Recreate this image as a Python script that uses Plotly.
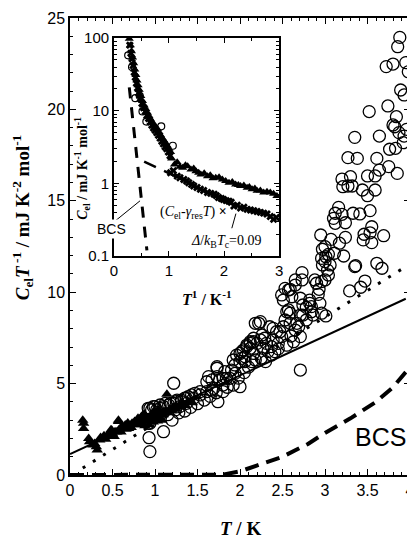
import plotly.graph_objects as go

# ---------------- main panel data ----------------
circ_T = [3.88,3.855,3.72,3.80,3.95,3.98,3.89,3.93,3.52,3.74,3.84,3.80,3.82,3.87,3.96,3.93,3.92,3.64,3.35,3.76,
          3.83,3.27,3.38,3.61,3.75,3.85,3.20,3.30,3.50,3.59,3.64,3.21,3.27,3.32,3.44,3.59,3.50,3.16,3.12,3.10,
          3.20,3.12,3.24,3.33,3.41,3.53,3.55,2.95,3.07,3.24,3.46,3.45,3.53,3.69,3.55,3.17,3.00,
          3.22,3.11,2.97,2.96,3.01,3.04,3.00,2.97,3.03,3.06,3.04,3.00,2.96,3.35,3.36,3.61,3.67,3.47,3.42,3.29,
          2.88,2.90,2.73,2.73,2.65,2.65,2.59,2.93,2.92,2.82,2.82,2.84,2.78,2.74,2.71,2.49,2.51,2.57,2.53,2.61,
          2.94,2.96,3.01,2.55,2.59,2.57,2.74,2.78,2.71,2.67,2.65,2.71,2.69,2.84,2.86,2.63,2.51,2.53,2.59,
          2.18,2.22,2.24,2.35,2.39,2.43,2.47,2.49,2.45,2.39,2.37,2.31,2.29,2.26,2.24,2.20,2.16,2.12,2.08,2.04,
          2.06,2.00,2.12,2.16,2.27,2.33,2.41,2.37,2.71,2.00,
          2.12,2.16,2.08,2.02,1.96,1.92,2.00,1.94,1.90,2.02,2.06,2.14,2.18,1.73,1.74,1.82,1.84,1.80,1.73,1.76,
          1.63,1.67,1.61,1.69,1.22,1.53,1.47,1.43,1.39,1.35,1.31,1.25,1.22,1.16,1.10,1.06,1.02,0.96,0.92,0.98,
          1.10,0.94,0.94,0.93,0.94,1.00,1.06,1.12,1.18,0.92,0.90,1.24,1.29,1.37,1.45,1.53,1.61,1.67,1.80,1.88,
          1.94,1.80,1.92,1.26,1.31,1.37,1.73,
          1.05,1.15,1.20,1.28,1.35,1.42,1.50,1.58,1.65,1.72,1.85,1.98,2.05,2.10,2.25,2.30,2.45,2.55,2.60]
circ_C = [23.94,23.43,22.34,22.48,22.56,22.06,21.06,20.79,19.88,20.19,19.60,19.15,19.05,18.73,18.91,18.54,18.18,18.54,18.47,17.82,
          17.87,17.36,17.32,17.32,16.87,16.50,16.19,16.32,16.36,16.36,16.68,15.77,15.81,15.81,15.59,15.59,15.28,14.64,14.32,14.04,
          14.26,13.77,13.80,14.32,14.28,14.46,13.58,13.13,12.89,13.00,13.17,12.86,13.25,13.09,12.71,12.68,12.49,
          11.98,12.13,12.35,11.85,11.94,12.07,11.67,11.49,11.21,11.49,10.94,10.67,10.58,11.40,11.45,11.58,11.31,10.61,10.27,10.07,
          10.67,10.49,11.07,10.67,10.67,10.39,10.16,10.16,9.88,9.57,9.39,9.21,9.17,9.30,9.67,9.85,9.57,10.12,10.21,9.75,
          9.39,8.85,8.70,8.93,8.85,9.03,8.75,8.48,8.75,8.30,7.93,7.57,8.11,8.93,8.75,7.29,8.11,8.48,8.30,
          8.30,8.30,8.39,8.11,8.02,7.84,7.84,7.57,7.20,7.39,7.02,7.20,7.48,7.66,7.39,7.20,7.48,7.29,7.02,6.84,
          6.47,6.65,6.93,6.65,6.93,6.75,6.75,6.56,5.74,4.83,
          7.20,7.29,7.11,6.75,6.56,6.29,6.20,6.02,5.74,6.38,6.20,6.20,6.29,5.84,4.01,5.65,5.29,5.29,5.38,5.20,
          5.38,5.20,5.10,4.74,5.02,4.56,4.47,4.38,4.28,4.20,4.10,4.01,3.92,3.83,3.74,3.65,3.56,3.56,3.65,3.74,
          2.37,2.83,1.28,2.04,3.65,3.74,3.83,3.92,3.92,2.83,3.00,3.56,3.74,3.92,4.19,4.38,4.56,4.65,4.92,5.29,
          5.56,4.56,4.92,4.10,4.01,4.19,5.93,
          3.20,3.30,3.00,3.40,3.50,3.70,3.90,4.10,4.30,4.50,4.80,5.30,5.60,5.90,6.40,6.20,6.90,7.10,7.60]

tri_T = [0.15,0.16,0.16,0.22,0.23,0.29,0.31,0.32,0.27,0.35,0.39,0.43,0.47,0.49,0.53,0.57,0.61,0.65,0.69,0.73,
         0.76,0.80,0.84,0.88,0.48,0.57,1.14,
         0.36,0.40,0.42,0.45,0.50,0.52,0.55,0.58,0.60,0.62,0.66,0.70,0.72,0.75,0.78,0.80,0.82,0.85,0.87,0.90,
         0.92,0.95,0.97,1.00,1.02,1.05,1.07,1.10,1.12,1.15,1.17,1.20,1.22,1.25,1.28,1.30,1.33,1.36,1.40,1.44,
         0.88,0.93,0.98,1.03,1.08,0.98,1.04,0.86,0.68]
tri_C = [3.00,2.83,2.55,2.00,1.82,1.73,1.55,1.37,1.64,1.91,2.00,2.10,2.28,2.46,2.37,2.92,2.65,2.74,2.55,2.83,
         2.92,3.10,3.19,3.28,2.46,3.00,4.42,
         2.05,2.15,1.95,2.20,2.25,2.10,2.35,2.50,2.35,2.55,2.50,2.70,2.60,2.75,2.80,2.75,2.95,2.85,3.05,2.95,
         3.15,3.05,3.25,3.10,3.30,3.20,3.40,3.30,3.50,3.40,3.60,3.50,3.70,3.60,3.80,3.70,3.90,3.80,4.00,3.95,
         2.70,2.75,2.90,2.95,3.00,3.45,3.55,3.30,2.85]

solid_T = [0.0, 3.95]
solid_C = [1.15, 9.64]
dot_T = [0.15, 3.95]
dot_C = [0.38, 11.40]
bcs_T = [0.0, 1.5, 1.8, 2.0, 2.2, 2.5, 2.8, 3.0, 3.3, 3.6, 3.8, 4.0]
bcs_C = [0.0, 0.0, 0.02, 0.2, 0.5, 1.0, 1.7, 2.3, 3.1, 4.0, 4.8, 5.9]

# ---------------- inset data ----------------
curve_x = [0.28,0.30,0.32,0.34,0.36,0.38,0.40,0.42,0.44,0.46,0.49,0.52,0.55,0.58,0.61,0.64,0.67,0.70,0.73,0.76,
           0.79,0.82,0.85,0.88,0.91,0.94,0.97,1.00,1.03]
curve_C = [98,80,66,54,45,37,31,26,22.5,19.4,16,13.6,11.8,10.6,9.4,8.4,7.6,6.9,6.4,6.0,
           5.6,5.1,4.6,4.2,3.9,3.6,3.3,3.0,2.7]
curve2_x = [0.29,0.31,0.33,0.35,0.37,0.39,0.41,0.43,0.45,0.48,0.51,0.54,0.57,0.60,0.63,0.66,0.69,0.72,0.75,0.78,
            0.81,0.84,0.87,0.90,0.93,0.96,0.99,1.02]
curve2_C = [80,62,52,42,34,29,24,20.5,17.5,14.8,12.6,11.0,9.8,8.6,7.8,7.0,6.3,5.8,5.4,5.0,
            4.6,4.2,3.8,3.5,3.2,3.0,2.7,2.4]
up_x = [1.05,1.10,1.15,1.20,1.25,1.30,1.34,1.40,1.45,1.49,1.54,1.58,1.64,1.70,1.75,1.80,1.85,1.91,1.97,2.03,
        2.09,2.15,2.21,2.26,2.30,2.36,2.42,2.46,2.51,2.56,2.60,2.66,2.72,2.78,2.84,2.90,2.96]
up_C = [2.20,1.82,1.95,1.70,1.64,1.78,1.73,1.55,1.60,1.47,1.40,1.33,1.38,1.26,1.30,1.18,1.20,1.22,1.13,1.08,
        1.02,1.05,0.97,0.95,0.92,0.94,0.87,0.89,0.83,0.85,0.79,0.80,0.75,0.77,0.75,0.72,0.67]
lo_x = [1.03,1.08,1.15,1.20,1.27,1.32,1.36,1.41,1.45,1.51,1.57,1.63,1.70,1.76,1.82,1.86,1.90,1.95,1.99,2.04,
        2.09,2.13,2.18,2.24,2.30,2.36,2.42,2.48,2.54,2.60,2.66,2.72,2.78,2.84,2.90,2.95]
lo_C = [1.40,1.50,1.26,1.20,1.13,1.08,1.02,0.97,0.92,0.88,0.83,0.80,0.75,0.73,0.71,0.68,0.64,0.62,0.60,0.58,
        0.57,0.55,0.49,0.50,0.46,0.47,0.44,0.43,0.42,0.41,0.40,0.39,0.38,0.35,0.32,0.34]
ins_circ_x = [0.26,0.39,0.52,0.59,0.86,1.07,0.33,0.47]
ins_circ_C = [58,14.9,9.8,7.1,6.1,3.3,40,16]
ins_bcs_x = [0.28,0.36,0.44,0.52,0.60]
ins_bcs_C = [21,5.8,1.6,0.44,0.12]
ins_fit_x = [0.55,1.45]
ins_fit_C = [2.0,0.95]

fig = go.Figure()

# main lines
fig.add_trace(go.Scatter(x=bcs_T, y=bcs_C, mode="lines",
                         line=dict(color="black", width=4, dash="14px,8px"), hoverinfo="skip"))
fig.add_trace(go.Scatter(x=dot_T, y=dot_C, mode="lines",
                         line=dict(color="black", width=3, dash="3px,9px"), hoverinfo="skip"))
fig.add_trace(go.Scatter(x=solid_T, y=solid_C, mode="lines",
                         line=dict(color="black", width=2), hoverinfo="skip"))
fig.add_trace(go.Scatter(x=tri_T, y=tri_C, mode="markers",
                         marker=dict(symbol="triangle-up", size=10, color="black")))
fig.add_trace(go.Scatter(x=circ_T, y=circ_C, mode="markers",
                         marker=dict(symbol="circle-open", size=12, color="black", line=dict(width=1.3))))

# inset
fig.add_trace(go.Scatter(x=ins_bcs_x, y=ins_bcs_C, mode="lines", xaxis="x2", yaxis="y2",
                         line=dict(color="black", width=3, dash="11px,9px")))
fig.add_trace(go.Scatter(x=ins_fit_x, y=ins_fit_C, mode="lines", xaxis="x2", yaxis="y2",
                         line=dict(color="black", width=2.5, dash="13px,9px")))
fig.add_trace(go.Scatter(x=curve_x + up_x, y=curve_C + up_C, mode="markers", xaxis="x2", yaxis="y2",
                         marker=dict(symbol="triangle-up", size=8, color="black")))
fig.add_trace(go.Scatter(x=curve2_x + lo_x, y=curve2_C + lo_C, mode="markers", xaxis="x2", yaxis="y2",
                         marker=dict(symbol="x", size=7, color="black")))
fig.add_trace(go.Scatter(x=ins_circ_x, y=ins_circ_C, mode="markers", xaxis="x2", yaxis="y2",
                         marker=dict(symbol="circle-open", size=7, color="black", line=dict(width=1.2))))

tickfont = dict(family="Liberation Sans, Arial, sans-serif", size=16, color="black")
axis_common = dict(showline=True, linecolor="black", linewidth=1.5, mirror="ticks", ticks="inside",
                   tickcolor="black", showgrid=False, zeroline=False, automargin=False)

# the page body adds an 8px margin, so the figure is 8px smaller than the window
fig.update_layout(
    width=407, height=531, showlegend=False,
    paper_bgcolor="white", plot_bgcolor="white",
    margin=dict(l=62, r=5, t=10, b=64),
    xaxis=dict(range=[0, 4], dtick=0.5, ticklen=6, tickwidth=1.2, tickfont=tickfont,
               minor=dict(dtick=0.1, ticks="inside", ticklen=3, tickcolor="black"), **axis_common),
    yaxis=dict(range=[0, 25], dtick=5, ticklen=6, tickwidth=1.2, tickfont=tickfont,
               minor=dict(dtick=1, ticks="inside", ticklen=3, tickcolor="black"), **axis_common),
    xaxis2=dict(domain=[0.129, 0.615], anchor="y2", range=[0, 3], dtick=1, ticklen=5,
                tickfont=dict(family="Liberation Sans, Arial, sans-serif", size=15, color="black"),
                minor=dict(dtick=0.5, ticks="inside", ticklen=3, tickcolor="black"), **axis_common),
    yaxis2=dict(domain=[0.479, 0.956], anchor="x2", type="log", range=[-1, 2], ticklen=5,
                tickvals=[0.1, 1, 10, 100], ticktext=["0.1", "1", "10", "100"],
                tickfont=dict(family="Liberation Sans, Arial, sans-serif", size=15, color="black"),
                minor=dict(ticks="inside", ticklen=3, tickcolor="black",
                           tickvals=[0.2,0.3,0.4,0.5,0.6,0.7,0.8,0.9,2,3,4,5,6,7,8,9,20,30,40,50,60,70,80,90]),
                **axis_common),
)

serif = "Liberation Serif, Times New Roman, serif"
sans = "Liberation Sans, Arial, sans-serif"
ann = [
    dict(x=-0.141, y=0.562, text="<b><i>C</i><sub>el</sub><i>T</i><sup> -1</sup> / mJ K<sup>-2</sup> mol<sup>-1</sup></b>",
         textangle=-90, font=dict(family=serif, size=19, color="black")),
    dict(x=0.5, y=-0.118, text="<b><i>T</i> / K</b>", font=dict(family=serif, size=19, color="black")),
    dict(x=0.403, y=0.387, text="<b><i>T</i><sup>1</sup> / K<sup>-1</sup></b>", font=dict(family=serif, size=16, color="black")),
    dict(x=0.035, y=0.672, text="<b><i>C</i><sub>el</sub> / mJ K<sup>-1</sup> mol<sup>-1</sup></b>",
         textangle=-90, font=dict(family=serif, size=14, color="black")),
    dict(x=0.912, y=0.083, text="BCS", font=dict(family=sans, size=25, color="black")),
    dict(x=0.1235, y=0.538, text="BCS", font=dict(family=sans, size=14, color="black"), bgcolor="white"),
    dict(x=0.362, y=0.575, text="(<i>C</i><sub>el</sub>-<i>γ</i><sub>res</sub><i>T</i>) <b>×</b>",
         font=dict(family=serif, size=14, color="black")),
    dict(x=0.459, y=0.512, text="<i>Δ</i>/<i>k</i><sub>B</sub><i>T</i><sub>c</sub>=0.09",
         font=dict(family=serif, size=14, color="black")),
]
for a in ann:
    a.update(xref="paper", yref="paper", showarrow=False, xanchor="center", yanchor="middle")
fig.update_layout(annotations=ann)

fig.update_layout(shapes=[
    dict(type="line", xref="paper", yref="paper", x0=0.1265, y0=0.552, x1=0.206, y1=0.600,
         line=dict(color="black", width=1)),
    dict(type="line", xref="paper", yref="paper", x0=0.476, y0=0.540, x1=0.488, y1=0.572,
         line=dict(color="black", width=1)),
])

fig.write_html("out.html")
